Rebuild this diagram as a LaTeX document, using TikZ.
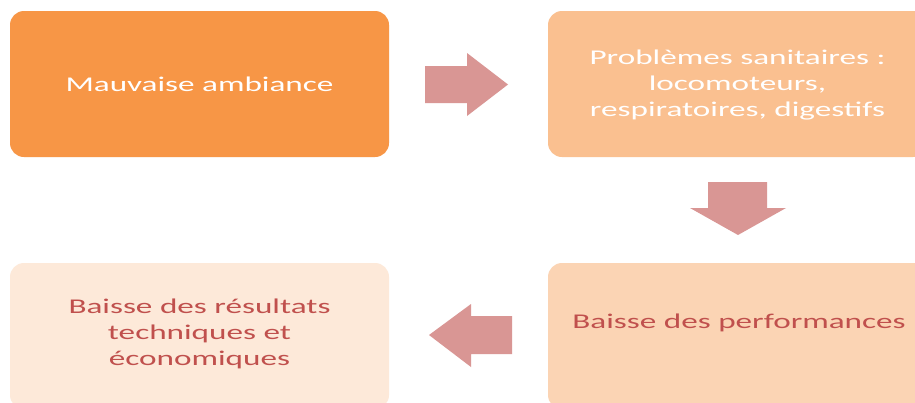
\documentclass[tikz,border=0pt]{standalone}
\usepackage{fontspec}
\setmainfont[FakeStretch=1.58]{Carlito}
\definecolor{cA}{HTML}{F79646}
\definecolor{cB}{HTML}{FAC090}
\definecolor{cC}{HTML}{FBD4B4}
\definecolor{cD}{HTML}{FDE9D9}
\definecolor{cArrow}{HTML}{D99694}
\definecolor{cText}{HTML}{C0504D}
\tikzset{
  box/.style={draw=none, rounded corners=14pt, minimum width=379pt, minimum height=146pt, inner sep=0pt},
  lbl/.style={align=center, inner sep=0pt, font=\fontsize{21}{26}\selectfont},
  blockarrow/.style={fill=cArrow, draw=none}
}
\begin{document}
\begin{tikzpicture}[x=1pt,y=-1pt]
\useasboundingbox (0,0) rectangle (915,402);
\fill[white] (0,0) rectangle (915,402);
\begin{scope}
\clip (0,0) rectangle (915,402);
\node[box, fill=cA] (b1) at (199.5,84) {};
\node[box, fill=cB] (b2) at (737.5,84) {};
\node[box, fill=cC] (b3) at (737.5,336) {};
\node[box, fill=cD] (b4) at (199.5,336) {};
\end{scope}
\node[lbl, text=white] (t1) at (b1.center) {Mauvaise ambiance};
\node[lbl, text=white] (t2) at (737.5,85) {Problèmes sanitaires :\\locomoteurs,\\respiratoires, digestifs};
\node[lbl, text=cText] (t3) at (739,323) {Baisse des performances};
\node[lbl, text=cText] (t4) at (199.5,334) {Baisse des résultats\\techniques et\\économiques};
% block arrows
\fill[blockarrow] (425,66) -- (467,66) -- (467,53) -- (508,84.5) -- (467,116) -- (467,103) -- (425,103) -- cycle;
\fill[blockarrow] (708,182) -- (767,182) -- (767,208) -- (786,208) -- (738,235) -- (690,208) -- (708,208) -- cycle;
\fill[blockarrow] (512,316) -- (471,316) -- (471,304) -- (429,335) -- (471,367) -- (471,354) -- (512,354) -- cycle;
\end{tikzpicture}
\end{document}
